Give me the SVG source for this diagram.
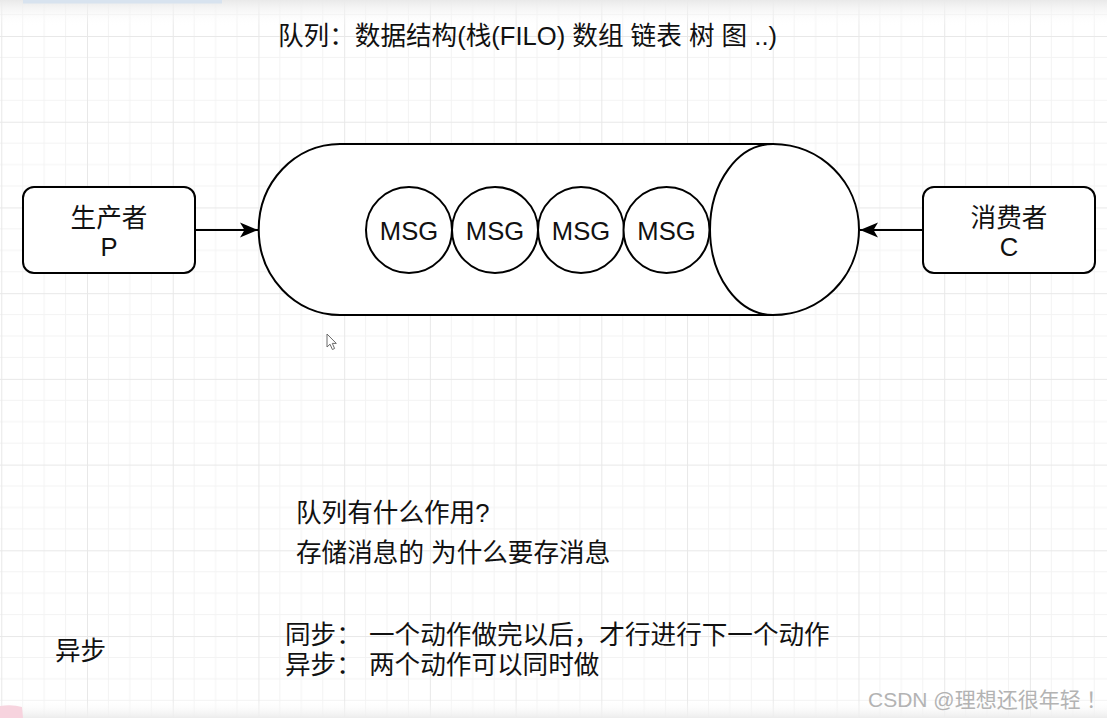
<svg xmlns="http://www.w3.org/2000/svg" width="1107" height="718" viewBox="0 0 1107 718">
  <defs>
    <style>
      text { font-family: 'Liberation Sans', 'Noto Sans CJK SC', sans-serif; fill: #111; }
      .t { font-size: 25.6px; }
      .c { text-anchor: middle; }
      .shape { fill: #fff; stroke: #000; stroke-width: 2; }
      .edge { fill: none; stroke: #000; stroke-width: 2; }
      .wm { font-size: 21px; fill: #b3b3b3; }
    </style>
    <pattern id="grid" patternUnits="userSpaceOnUse" x="87" y="36" width="85.72" height="85.72">
      <path d="M21.43 0V85.72M42.86 0V85.72M64.29 0V85.72M0 21.43H85.72M0 42.86H85.72M0 64.29H85.72" stroke="#f3f3f3" stroke-width="1" fill="none"/>
      <path d="M0.5 0V85.72M0 0.5H85.72" stroke="#e8e8e8" stroke-width="1" fill="none"/>
    </pattern>
    <linearGradient id="topShade" x1="0" y1="0" x2="0" y2="1">
      <stop offset="0" stop-color="#e9e9e9"/>
      <stop offset="1" stop-color="#ffffff" stop-opacity="0"/>
    </linearGradient>
    <linearGradient id="botShade" x1="0" y1="0" x2="0" y2="1">
      <stop offset="0" stop-color="#ffffff" stop-opacity="0"/>
      <stop offset="1" stop-color="#ececec"/>
    </linearGradient>
    <marker id="arrow" viewBox="0 0 18 16" refX="18" refY="8" markerWidth="18" markerHeight="16" markerUnits="userSpaceOnUse" orient="auto">
      <path d="M0 0.5L18 8L0 15.5L4.5 8Z" fill="#000"/>
    </marker>
  </defs>

  <rect width="1107" height="718" fill="#ffffff"/>
  <rect width="1107" height="718" fill="url(#grid)"/>
  <rect width="1107" height="26" fill="url(#topShade)"/>
  <rect x="23" y="0" width="199" height="3.5" fill="#d8e3ef"/>
  <rect x="0" y="700" width="1107" height="18" fill="url(#botShade)"/>
  <path d="M0 706 Q12 704 22 707 L23 718 L0 718 Z" fill="#f7d3de"/>

  <g id="title">
    <text class="t" x="278" y="45">队列：数据结构(栈(FILO) 数组 链表 树 图 ..)</text>
  </g>

  <g id="connectors">
    <path class="edge" d="M195 230H258" marker-end="url(#arrow)"/>
    <path class="edge" d="M923 230H860" marker-end="url(#arrow)"/>
  </g>

  <g id="node-producer">
    <rect class="shape" x="23" y="187" width="172" height="86" rx="11"/>
    <text class="t c" x="109" y="226.5">生产者</text>
    <text class="t c" x="109" y="256">P</text>
  </g>

  <g id="node-queue">
    <path class="shape" d="M773 144H340C295.1 144 258.7 182.3 258.7 229.5C258.7 276.7 295.1 315 340 315H773Z"/>
    <path class="shape" d="M773 144C820.5 144 859 182.3 859 229.5C859 276.7 820.5 315 773 315C738.2 315 710 276.7 710 229.5C710 182.3 738.2 144 773 144Z"/>
  </g>

  <g id="node-msg1">
    <ellipse class="shape" cx="409" cy="230" rx="43" ry="43"/>
    <text class="t c" x="409" y="240">MSG</text>
  </g>
  <g id="node-msg2">
    <ellipse class="shape" cx="495" cy="230" rx="43" ry="43"/>
    <text class="t c" x="495" y="240">MSG</text>
  </g>
  <g id="node-msg3">
    <ellipse class="shape" cx="581" cy="230" rx="43" ry="43"/>
    <text class="t c" x="581" y="240">MSG</text>
  </g>
  <g id="node-msg4">
    <ellipse class="shape" cx="666.5" cy="230" rx="43" ry="43"/>
    <text class="t c" x="666.5" y="240">MSG</text>
  </g>

  <g id="node-consumer">
    <rect class="shape" x="923" y="187" width="172" height="86" rx="11"/>
    <text class="t c" x="1009" y="226.5">消费者</text>
    <text class="t c" x="1009" y="256">C</text>
  </g>

  <g id="cursor">
    <path d="M327 334V347L330 344.2L332.4 349.5L334.6 348.5L332.3 343.4L336.3 343.4Z" fill="#fff" stroke="#6a6a6a" stroke-width="1" stroke-linejoin="round"/>
  </g>

  <g id="notes">
    <text class="t" x="296" y="521.5">队列有什么作用?</text>
    <text class="t" x="296" y="562">存储消息的 为什么要存消息</text>
    <text class="t" x="55" y="659.5">异步</text>
    <text class="t" x="285" y="644"><tspan>同步：</tspan><tspan x="369">一个动作做完以后，才行进行下一个动作</tspan></text>
    <text class="t" x="285" y="673.5"><tspan>异步：</tspan><tspan x="369">两个动作可以同时做</tspan></text>
  </g>

  <g id="watermark">
    <text class="wm" x="868" y="707"><tspan>CSDN @理想还很年轻</tspan><tspan x="1086">！</tspan></text>
  </g>
</svg>
